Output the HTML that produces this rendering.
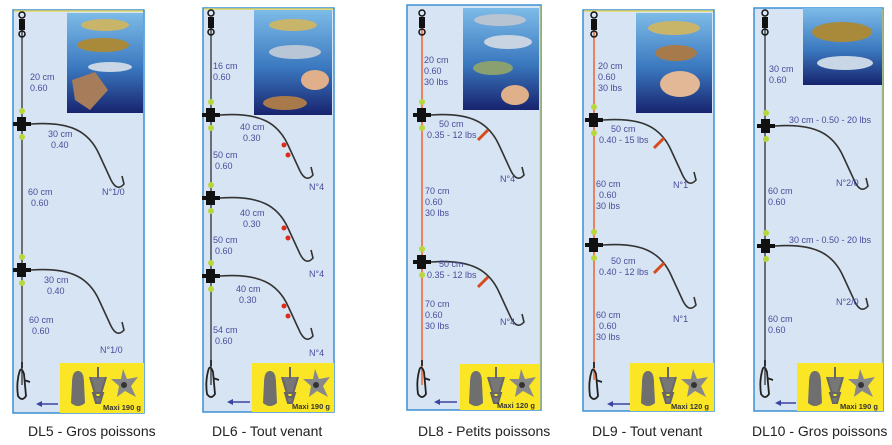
<!DOCTYPE html>
<html><head><meta charset="utf-8"><style>
html,body{margin:0;padding:0;background:#fff;width:892px;height:445px;overflow:hidden}
svg{display:block}
.t{font-family:"Liberation Sans",sans-serif;font-size:9px;fill:#4b4b9c}
.c{font-family:"Liberation Sans",sans-serif;font-size:14px;fill:#222}
.m{font-family:"Liberation Sans",sans-serif;font-size:7.5px;font-weight:bold;fill:#333}
</style></head><body>
<svg width="892" height="445" viewBox="0 0 892 445" xmlns="http://www.w3.org/2000/svg">
<defs>
<linearGradient id="sea" x1="0" y1="0" x2="0" y2="1"><stop offset="0" stop-color="#7dbbe8"/><stop offset="0.55" stop-color="#3a78bf"/><stop offset="1" stop-color="#18236e"/></linearGradient>
<g id="hook"><path d="M0,0 C40,-3 58,8 68,30 L80,56 Q86,68 93,60 L91,52" fill="none" stroke="#333" stroke-width="1.6"/></g>
<g id="conn"><rect x="-5" y="-7" width="9" height="14" fill="#111"/><rect x="-9" y="-2" width="18" height="4" fill="#111"/><circle cx="0" cy="-13" r="3" fill="#b9d63a"/><circle cx="0" cy="13" r="3" fill="#b9d63a"/></g>
<g id="swivel"><circle cx="0" cy="0" r="3" fill="none" stroke="#111" stroke-width="1.5"/><rect x="-3" y="4" width="6" height="11" fill="#111"/><circle cx="0" cy="19" r="3" fill="none" stroke="#111" stroke-width="1.5"/></g>
<g id="snap"><path d="M0,0 L0,6 M-2,8 Q-6,20 -4,34 Q0,40 4,34 L2,12 Q0,6 -2,8 M2,18 L8,20" fill="none" stroke="#222" stroke-width="1.8"/></g>
<g id="sinkers"><path d="M18,8 Q24,8 24,20 L25,40 Q18,46 11,40 L12,20 Q12,8 18,8Z" fill="#6f6f6f"/><path d="M38,4 L38,16 M30,14 L36,34 L40,34 L46,14 M33,30 L43,30 L40,40 L36,40Z" fill="#777" stroke="#666" stroke-width="2"/><path d="M63,6 L67,16 L78,14 L71,23 L76,34 L65,28 L57,34 L59,23 L51,16 L61,16Z" fill="#888"/><circle cx="64" cy="22" r="3" fill="#333"/></g>
</defs>

<!-- Panel 1 -->
<g>
<rect x="13" y="10" width="131" height="403" fill="#d6e4f3" stroke="#3b8fd4" stroke-width="1.5"/>
<line x1="14" y1="11" x2="143" y2="11" stroke="#e6d65a" stroke-width="1.5"/>
<rect x="67" y="13" width="76" height="100" fill="url(#sea)"/>
<ellipse cx="105" cy="25" rx="24" ry="6" fill="#c9b56a"/><ellipse cx="103" cy="45" rx="26" ry="7" fill="#a88a3a"/><ellipse cx="110" cy="67" rx="22" ry="5" fill="#c8d6e6"/><path d="M72,80 L95,72 L108,90 L90,110 L75,100Z" fill="#a67c5a"/>
<line x1="22" y1="30" x2="22" y2="385" stroke="#222" stroke-width="1.2"/>
<use href="#swivel" x="22" y="15"/>
<use href="#conn" x="22" y="124"/><use href="#hook" x="31" y="124"/>
<use href="#conn" x="22" y="270"/><use href="#hook" x="31" y="270"/>
<use href="#snap" x="22" y="362"/>
<text class="t" x="30" y="80">20 cm</text><text class="t" x="30" y="91">0.60</text>
<text class="t" x="48" y="137">30 cm</text><text class="t" x="51" y="148">0.40</text>
<text class="t" x="28" y="195">60 cm</text><text class="t" x="31" y="206">0.60</text>
<text class="t" x="102" y="195">N°1/0</text>
<text class="t" x="44" y="283">30 cm</text><text class="t" x="47" y="294">0.40</text>
<text class="t" x="29" y="323">60 cm</text><text class="t" x="32" y="334">0.60</text>
<text class="t" x="100" y="353">N°1/0</text>
<rect x="60" y="363" width="84" height="50" fill="#fbe625"/>
<use href="#sinkers" x="60" y="363"/>
<text class="m" x="103" y="410">Maxi 190 g</text>
<path d="M58,404 L38,404" stroke="#3c43a0" stroke-width="1.5"/><path d="M36,404 L42,401 L42,407Z" fill="#3c43a0"/>
<text class="c" x="28" y="436">DL5 - Gros poissons</text>
</g>

<!-- Panel 2 -->
<g>
<rect x="203" y="8" width="131" height="404" fill="#d6e4f3" stroke="#3b8fd4" stroke-width="1.5"/>
<line x1="204" y1="9" x2="333" y2="9" stroke="#e6d65a" stroke-width="1.5"/>
<rect x="254" y="10" width="78" height="105" fill="url(#sea)"/>
<ellipse cx="293" cy="25" rx="24" ry="6" fill="#c9b56a"/><ellipse cx="295" cy="52" rx="26" ry="7" fill="#b8c6d6"/><ellipse cx="315" cy="80" rx="14" ry="10" fill="#e0b08a"/><ellipse cx="285" cy="103" rx="22" ry="7" fill="#a87a4a"/>
<line x1="211" y1="28" x2="211" y2="385" stroke="#222" stroke-width="1.2"/>
<use href="#swivel" x="211" y="13"/>
<use href="#conn" x="211" y="115"/><use href="#hook" x="220" y="115"/>
<use href="#conn" x="211" y="198"/><use href="#hook" x="220" y="198"/>
<use href="#conn" x="211" y="276"/><use href="#hook" x="220" y="276"/>
<circle cx="284" cy="145" r="2.5" fill="#e02a1a"/><circle cx="288" cy="155" r="2.5" fill="#e02a1a"/>
<circle cx="284" cy="228" r="2.5" fill="#e02a1a"/><circle cx="288" cy="238" r="2.5" fill="#e02a1a"/>
<circle cx="284" cy="306" r="2.5" fill="#e02a1a"/><circle cx="288" cy="316" r="2.5" fill="#e02a1a"/>
<use href="#snap" x="211" y="360"/>
<text class="t" x="213" y="69">16 cm</text><text class="t" x="213" y="80">0.60</text>
<text class="t" x="240" y="130">40 cm</text><text class="t" x="243" y="141">0.30</text>
<text class="t" x="213" y="158">50 cm</text><text class="t" x="215" y="169">0.60</text>
<text class="t" x="309" y="190">N°4</text>
<text class="t" x="240" y="216">40 cm</text><text class="t" x="243" y="227">0.30</text>
<text class="t" x="213" y="243">50 cm</text><text class="t" x="215" y="254">0.60</text>
<text class="t" x="309" y="277">N°4</text>
<text class="t" x="236" y="292">40 cm</text><text class="t" x="239" y="303">0.30</text>
<text class="t" x="213" y="333">54 cm</text><text class="t" x="215" y="344">0.60</text>
<text class="t" x="309" y="356">N°4</text>
<rect x="252" y="363" width="82" height="49" fill="#fbe625"/>
<use href="#sinkers" x="252" y="363"/>
<text class="m" x="292" y="409">Maxi 190 g</text>
<path d="M250,402 L230,402" stroke="#3c43a0" stroke-width="1.5"/><path d="M227,402 L233,399 L233,405Z" fill="#3c43a0"/>
<text class="c" x="212" y="436">DL6 - Tout venant</text>
</g>

<!-- Panel 3 -->
<g>
<rect x="407" y="5" width="134" height="405" fill="#d6e4f3" stroke="#3b8fd4" stroke-width="1.5"/>
<line x1="540" y1="6" x2="540" y2="409" stroke="#e6d65a" stroke-width="1.2"/>
<rect x="463" y="8" width="76" height="102" fill="url(#sea)"/>
<ellipse cx="500" cy="20" rx="26" ry="6" fill="#b8c4d2"/><ellipse cx="508" cy="42" rx="24" ry="7" fill="#c9d4e2"/><ellipse cx="493" cy="68" rx="20" ry="7" fill="#8aa070"/><ellipse cx="515" cy="95" rx="14" ry="10" fill="#e0b08a"/>
<line x1="422" y1="28" x2="422" y2="385" stroke="#f06a3a" stroke-width="1.6"/>
<use href="#swivel" x="422" y="13"/>
<use href="#conn" x="422" y="115"/><use href="#hook" x="431" y="115"/>
<use href="#conn" x="422" y="262"/><use href="#hook" x="431" y="262"/>
<path d="M478,140 L488,130" stroke="#d84a1a" stroke-width="3"/><path d="M478,287 L488,277" stroke="#d84a1a" stroke-width="3"/>
<use href="#snap" x="422" y="360"/>
<text class="t" x="424" y="63">20 cm</text><text class="t" x="424" y="74">0.60</text><text class="t" x="424" y="85">30 lbs</text>
<text class="t" x="439" y="127">50 cm</text><text class="t" x="427" y="138">0.35 - 12 lbs</text>
<text class="t" x="500" y="182">N°4</text>
<text class="t" x="425" y="194">70 cm</text><text class="t" x="425" y="205">0.60</text><text class="t" x="425" y="216">30 lbs</text>
<text class="t" x="439" y="267">50 cm</text><text class="t" x="427" y="278">0.35 - 12 lbs</text>
<text class="t" x="425" y="307">70 cm</text><text class="t" x="425" y="318">0.60</text><text class="t" x="425" y="329">30 lbs</text>
<text class="t" x="500" y="325">N°4</text>
<rect x="460" y="364" width="80" height="46" fill="#fbe625"/>
<use href="#sinkers" x="458" y="363"/>
<text class="m" x="497" y="408">Maxi 120 g</text>
<path d="M457,402 L437,402" stroke="#3c43a0" stroke-width="1.5"/><path d="M434,402 L440,399 L440,405Z" fill="#3c43a0"/>
<text class="c" x="418" y="436">DL8 - Petits poissons</text>
</g>

<!-- Panel 4 -->
<g>
<rect x="583" y="10" width="131" height="401" fill="#d6e4f3" stroke="#3b8fd4" stroke-width="1.5"/>
<line x1="584" y1="11" x2="713" y2="11" stroke="#e6d65a" stroke-width="1.5"/>
<rect x="636" y="13" width="76" height="100" fill="url(#sea)"/>
<ellipse cx="674" cy="28" rx="26" ry="7" fill="#c9b56a"/><ellipse cx="676" cy="53" rx="21" ry="8" fill="#a67a4a"/><ellipse cx="680" cy="84" rx="20" ry="13" fill="#e2b896"/>
<line x1="594" y1="30" x2="594" y2="380" stroke="#f06a3a" stroke-width="1.6"/>
<use href="#swivel" x="594" y="15"/>
<use href="#conn" x="594" y="120"/><use href="#hook" x="603" y="120"/>
<use href="#conn" x="594" y="245"/><use href="#hook" x="603" y="245"/>
<path d="M654,148 L664,138" stroke="#d84a1a" stroke-width="3"/><path d="M654,273 L664,263" stroke="#d84a1a" stroke-width="3"/>
<use href="#snap" x="594" y="362"/>
<text class="t" x="598" y="69">20 cm</text><text class="t" x="598" y="80">0.60</text><text class="t" x="598" y="91">30 lbs</text>
<text class="t" x="611" y="132">50 cm</text><text class="t" x="599" y="143">0.40 - 15 lbs</text>
<text class="t" x="673" y="188">N°1</text>
<text class="t" x="596" y="187">60 cm</text><text class="t" x="599" y="198">0.60</text><text class="t" x="596" y="209">30 lbs</text>
<text class="t" x="611" y="264">50 cm</text><text class="t" x="599" y="275">0.40 - 12 lbs</text>
<text class="t" x="596" y="318">60 cm</text><text class="t" x="599" y="329">0.60</text><text class="t" x="596" y="340">30 lbs</text>
<text class="t" x="673" y="322">N°1</text>
<rect x="630" y="363" width="84" height="48" fill="#fbe625"/>
<use href="#sinkers" x="630" y="363"/>
<text class="m" x="671" y="409">Maxi 120 g</text>
<path d="M630,404 L610,404" stroke="#3c43a0" stroke-width="1.5"/><path d="M607,404 L613,401 L613,407Z" fill="#3c43a0"/>
<text class="c" x="592" y="436">DL9 - Tout venant</text>
</g>

<!-- Panel 5 -->
<g>
<rect x="754" y="8" width="129" height="403" fill="#d6e4f3" stroke="#3b8fd4" stroke-width="1.5"/>
<line x1="882" y1="9" x2="882" y2="410" stroke="#e6d65a" stroke-width="1.2"/>
<rect x="803" y="8" width="79" height="77" fill="url(#sea)"/>
<ellipse cx="842" cy="32" rx="30" ry="10" fill="#a88a3a"/><ellipse cx="845" cy="63" rx="28" ry="7" fill="#c8d6e6"/>
<line x1="765" y1="28" x2="765" y2="385" stroke="#222" stroke-width="1.2"/>
<use href="#swivel" x="765" y="13"/>
<use href="#conn" x="766" y="126"/><use href="#hook" x="775" y="126"/>
<use href="#conn" x="766" y="246"/><use href="#hook" x="775" y="246"/>
<use href="#snap" x="765" y="360"/>
<text class="t" x="769" y="72">30 cm</text><text class="t" x="769" y="83">0.60</text>
<text class="t" x="789" y="123">30 cm - 0.50 - 20 lbs</text>
<text class="t" x="836" y="186">N°2/0</text>
<text class="t" x="768" y="194">60 cm</text><text class="t" x="768" y="205">0.60</text>
<text class="t" x="789" y="243">30 cm - 0.50 - 20 lbs</text>
<text class="t" x="836" y="305">N°2/0</text>
<text class="t" x="768" y="322">60 cm</text><text class="t" x="768" y="333">0.60</text>
<rect x="797" y="363" width="86" height="48" fill="#fbe625"/>
<use href="#sinkers" x="797" y="363"/>
<text class="m" x="840" y="409">Maxi 190 g</text>
<path d="M796,403 L778,403" stroke="#3c43a0" stroke-width="1.5"/><path d="M775,403 L781,400 L781,406Z" fill="#3c43a0"/>
<text class="c" x="752" y="436">DL10 - Gros poissons</text>
</g>
</svg>
</body></html>
